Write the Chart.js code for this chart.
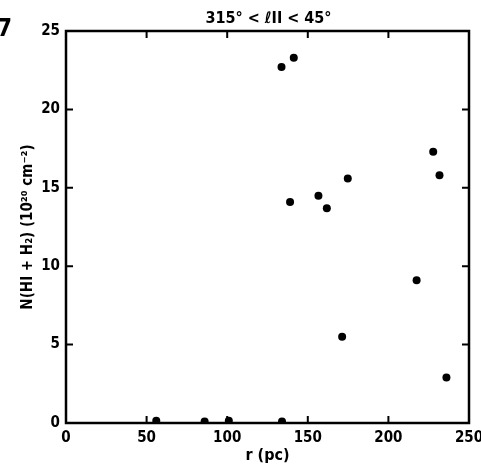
<!DOCTYPE html>
<html>
<head>
<meta charset="utf-8">
<script src="https://cdn.jsdelivr.net/npm/chart.js@4.4.0/dist/chart.umd.min.js"></script>
<style>
  html, body { margin: 0; padding: 0; background: #fff; }
  #wrap { width: 481px; height: 471px; }
</style>
</head>
<body>
<div id="wrap"><canvas id="chart" width="481" height="471"></canvas></div>
<script>
const FONT = "'Liberation Sans Narrow', 'DejaVu Sans Condensed', sans-serif";

// r (pc) and N(HI + H2) in units of 1e20 cm^-2
const rValues = [56, 86, 101, 134, 133.7, 141.3, 139, 156.6, 161.8, 174.8, 171.3, 217.5, 227.8, 231.7, 236];
const nValues = [0.15, 0.1, 0.15, 0.1, 22.7, 23.3, 14.1, 14.5, 13.7, 15.6, 5.5, 9.1, 17.3, 15.8, 2.9];

const xTicks = [0, 50, 100, 150, 200, 250];
const yTicks = [0, 5, 10, 15, 20, 25];

const titleText = "315° < ℓII < 45°";
const figNumber = "7";
const xTitle = "r (pc)";
const yTitle = "N(HI + H₂) (10²⁰ cm⁻²)";

const points = rValues.map((r, i) => ({ x: r, y: nValues[i] }));

// frame with inward ticks on all four sides, plus the title and figure number
const framePlugin = {
  id: "frame",
  afterDraw(chart) {
    const { ctx, chartArea: a, scales } = chart;
    const tl = 7;
    ctx.save();
    ctx.strokeStyle = "#000";
    ctx.lineWidth = 2.5;
    ctx.strokeRect(a.left, a.top, a.right - a.left, a.bottom - a.top);
    ctx.lineWidth = 2;
    ctx.beginPath();
    xTicks.slice(1, -1).forEach(v => {
      const px = scales.x.getPixelForValue(v);
      ctx.moveTo(px, a.top); ctx.lineTo(px, a.top + tl);
      ctx.moveTo(px, a.bottom); ctx.lineTo(px, a.bottom - tl);
    });
    yTicks.slice(1, -1).forEach(v => {
      const py = scales.y.getPixelForValue(v);
      ctx.moveTo(a.left, py); ctx.lineTo(a.left + tl, py);
      ctx.moveTo(a.right, py); ctx.lineTo(a.right - tl, py);
    });
    ctx.stroke();

    ctx.fillStyle = "#000";
    ctx.font = "bold 16px " + FONT;
    ctx.textAlign = "center";
    ctx.textBaseline = "alphabetic";
    ctx.fillText(titleText, (a.left + a.right) / 2 + 1, a.top - 8);

    ctx.font = "bold 24px " + FONT;
    ctx.textAlign = "left";
    ctx.fillText(figNumber, -3, 36);
    ctx.restore();
  }
};

new Chart(document.getElementById("chart"), {
  type: "scatter",
  data: {
    datasets: [{
      data: points,
      backgroundColor: "#000",
      borderWidth: 0,
      pointRadius: 4,
      pointHoverRadius: 4,
      clip: { left: false, top: false, right: false, bottom: 0 }
    }]
  },
  options: {
    responsive: false,
    animation: false,
    layout: { padding: { left: 10, right: 12, top: 31, bottom: 0 } },
    plugins: {
      legend: { display: false },
      tooltip: { enabled: false },
      title: { display: false }
    },
    scales: {
      x: {
        type: "linear",
        min: 0,
        max: 250,
        afterBuildTicks: s => { s.ticks = xTicks.map(v => ({ value: v })); },
        afterFit: s => { s.height = 48; s.paddingLeft = 0; s.paddingRight = 0; },
        grid: { display: false, drawTicks: false },
        border: { display: false },
        ticks: {
          color: "#000",
          padding: 6,
          maxRotation: 0,
          font: { family: FONT, size: 15, weight: "bold" }
        },
        title: {
          display: true,
          text: xTitle,
          color: "#000",
          padding: { top: 0, bottom: 6 },
          font: { family: FONT, size: 16, weight: "bold" }
        }
      },
      y: {
        type: "linear",
        min: 0,
        max: 25,
        afterBuildTicks: s => { s.ticks = yTicks.map(v => ({ value: v })); },
        afterFit: s => { s.width = 56; s.paddingTop = 0; s.paddingBottom = 0; },
        grid: { display: false, drawTicks: false },
        border: { display: false },
        ticks: {
          color: "#000",
          padding: 6,
          font: { family: FONT, size: 15, weight: "bold" }
        },
        title: {
          display: true,
          text: yTitle,
          color: "#000",
          padding: { top: 9, bottom: 0 },
          font: { family: FONT, size: 15, weight: "bold" }
        }
      }
    }
  },
  plugins: [framePlugin]
});
</script>
</body>
</html>
